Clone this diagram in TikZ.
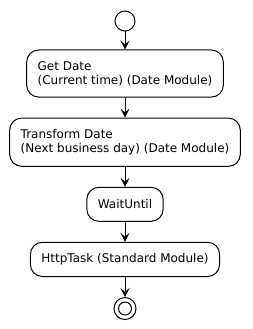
\documentclass[tikz,border=0pt]{standalone}
\usepackage{fontspec}
\setmainfont{DejaVu Sans}
\usetikzlibrary{arrows.meta,positioning}
\tikzset{
  actbox/.style={draw=black, line width=1pt, rounded corners=12pt, align=left, font=\fontsize{12}{14}\selectfont, inner xsep=11pt, inner ysep=11.3pt, minimum height=34pt, fill=white},
  farr/.style={-{Stealth[length=9pt,width=9pt,inset=4pt]}, line width=1pt},
  startdot/.style={draw=black, line width=1pt, circle, minimum size=20pt, inner sep=0pt}
}

\begin{document}
\begin{tikzpicture}[x=1pt,y=-1pt,node distance=20pt]
\useasboundingbox (0,0) rectangle (253,329);
\node[startdot] (start) at (125,21) {};
\node[actbox, below=18pt of start] (getdate) {Get Date\\(Current time) (Date Module)};
\node[actbox, below=of getdate] (transform) {Transform Date\\(Next business day) (Date Module)};
\node[actbox, below=of transform] (wait) {WaitUntil};
\node[actbox, below=of wait] (httptask) {HttpTask (Standard Module)};
\node[startdot, minimum size=22pt, below=of httptask] (stop) {};
\node[startdot, minimum size=13pt] (stopin) at (stop) {};
\draw[farr] (start)--(getdate);
\draw[farr] (getdate)--(transform);
\draw[farr] (transform)--(wait);
\draw[farr] (wait)--(httptask);
\draw[farr] (httptask)--(stop);
\end{tikzpicture}
\end{document}
